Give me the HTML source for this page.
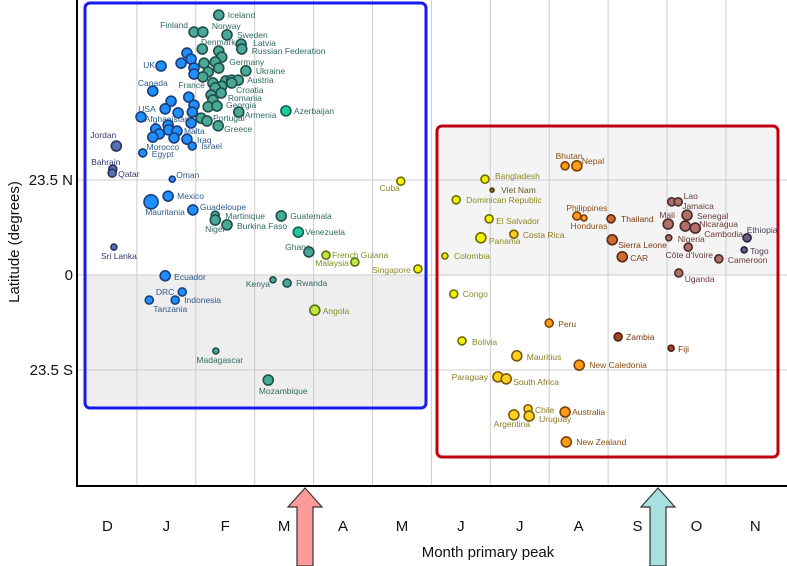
<!DOCTYPE html>
<html><head><meta charset="utf-8"><style>
html,body{margin:0;padding:0;background:#fff;}
svg{display:block;font-family:"Liberation Sans",sans-serif;}
</style></head><body>
<svg id="chart" width="787" height="566" viewBox="0 0 787 566"></svg>
<script>
const monthLabels = ["D","J","F","M","A","M","J","J","A","S","O","N"];
const latTicks = [23.5, 0, -23.5];
const latTickLabels = ["23.5 N","0","23.5 S"];
const names = ["Iceland","Finland","Norway","Sweden","Latvia","Russian Federation","Denmark","","","","","","","Germany","","UK","","","","","Ukraine","France","","","Austria","","","","Croatia","","Romania","","Georgia","Canada","","","","","","","USA","","Armenia","Azerbaijan","","Portugal","Greece","","Afghanistan","","Malta","","Morocco","","Iraq","Israel","Jordan","Egypt","Bahrain","Qatar","Oman","Mexico","Mauritania","Guadeloupe","Martinique","Niger","Burkina Faso","Guatemala","Venezuela","Ghana","French Guiana","Malaysia","Cuba","Singapore","Sri Lanka","Ecuador","DRC","Indonesia","Tanzania","Kenya","Rwanda","Angola","Madagascar","Mozambique","Bhutan","Nepal","Bangladesh","Viet Nam","Dominican Republic","El Salvador","Costa Rica","Panama","Colombia","Philippines","Honduras","Thailand","Sierra Leone","CAR","Lao","Jamaica","Mali","Senegal","Nicaragua","Cambodia","Nigeria","Côte d'Ivoire","Cameroon","Ethiopia","Togo","Uganda","Congo","Peru","Zambia","Fiji","Bolivia","Mauritius","New Caledonia","Paraguay","South Africa","Chile","Uruguay","Argentina","Australia","New Zealand"];
const months = [2.39,1.97,2.12,2.53,2.77,2.78,2.11,2.39,2.44,1.85,1.92,1.75,2.14,2.33,2.39,1.41,1.97,1.97,2.21,2.12,2.85,2.29,2.51,2.61,2.72,2.61,2.44,2.33,2.43,2.26,2.29,2.21,2.36,1.27,1.88,1.97,1.94,1.58,1.48,1.70,1.07,1.92,2.73,3.53,2.09,2.19,2.38,1.32,1.53,1.54,1.68,1.38,1.27,1.63,1.85,1.94,0.65,1.10,0.59,0.58,1.60,1.53,1.24,1.95,2.33,2.33,2.53,3.45,3.74,3.92,4.21,4.70,5.48,5.77,0.61,1.48,1.77,1.65,1.21,3.31,3.55,4.02,2.34,3.23,8.27,8.47,6.91,7.03,6.42,6.98,7.40,6.84,6.23,8.47,8.59,9.05,9.07,9.24,10.08,10.19,10.02,10.34,10.31,10.48,10.03,10.36,10.88,11.36,11.31,10.20,6.38,8.00,9.17,10.07,6.52,7.45,8.51,7.13,7.27,7.64,7.66,7.40,8.27,8.29];
const lats = [64.3,60.1,60.1,59.4,57.1,55.9,55.9,55.4,53.9,54.9,53.4,52.4,52.4,52.7,51.2,51.7,51.2,49.7,50.2,49.0,50.5,47.5,48.0,48.2,48.2,47.5,46.7,46.3,45.0,44.5,43.3,41.6,41.8,45.5,44.0,42.0,40.3,43.0,41.1,40.1,39.1,37.6,40.3,40.6,38.8,38.1,36.9,36.1,37.1,35.9,35.6,34.9,34.1,33.9,33.6,31.9,31.9,30.2,26.2,25.2,23.7,19.5,18.1,16.1,14.8,13.6,12.4,14.6,10.6,5.7,4.9,3.2,23.2,1.5,6.9,-0.2,-4.2,-6.2,-6.2,-1.2,-2.0,-8.7,-18.8,-26.0,27.0,27.0,23.7,21.0,18.6,13.9,10.1,9.2,4.7,14.6,14.1,13.9,8.7,4.5,18.1,18.1,12.6,14.8,12.1,11.6,9.2,6.9,4.0,9.2,6.2,0.5,-4.7,-11.9,-15.3,-18.1,-16.3,-20.0,-22.3,-25.2,-25.7,-33.1,-34.9,-34.6,-33.9,-41.3];
const sizes = [5,5,5,5,5,5,5,5,5,5,5,5,5,5,5,5,5,5,5,5,5,5,5,5,5,5,5,5,5,5,5,5,5,5,5,5,5,5,5,5,5,5,5,5,5,5,5,5,5,5,5,5,5,5,5,4,5,4,4,4,3,5,7,5,4,5,5,5,5,5,4,4,4,4,3,5,4,4,4,3,4,5,3,5,4,5,4,2,4,4,4,5,3,4,3,4,5,5,4,4,5,5,5,5,3,4,4,4,3,4,4,4,4,3,4,5,5,5,5,4,5,5,5,5];
const groups = [1,1,1,1,1,1,1,1,1,0,0,0,1,1,1,0,0,0,1,1,1,1,1,1,1,1,1,1,1,1,1,1,1,0,0,0,0,0,0,0,0,0,1,2,1,1,1,0,0,0,0,0,0,0,0,0,3,0,3,3,0,0,0,0,1,1,1,1,2,1,4,4,5,5,3,0,0,0,0,1,1,4,1,1,7,7,5,11,5,5,6,5,5,7,7,8,8,8,9,9,9,9,9,9,9,9,9,10,10,9,5,7,12,12,5,6,7,6,6,6,6,6,7,7];

const fills=["#1f8fff","#4aa898","#20c8a0","#5a6fb0","#c0e840","#f4f400","#ffd020","#ff9a1a","#cc6a30","#b07068","#6a5a80","#8a7a30","#a04a20"];
const strokes=["#1b3d78","#1f4f48","#106050","#2a3060","#5a7010","#6a6a00","#7a5a00","#7a4000","#5a2a10","#4a2a2a","#2a2040","#4a4010","#4a2010"];
const labelCols=["#2d5a8c","#2f6a62","#2f6a62","#333a70","#7a9020","#8a8a20","#8a7a20","#8a5010","#7a3a10","#6a3a3a","#4a3a5a","#6a5a20","#7a3a10"];
const lbl={"Iceland":[9,0,"start"],"Finland":[-6,-7,"end"],"Norway":[9,-6,"start"],"Sweden":[10,0,"start"],"Latvia":[12,-1,"start"],"Russian Federation":[10,2,"start"],"Denmark":[16,-7,"middle"],"Germany":[14,0,"start"],"UK":[-6,-1,"end"],"Ukraine":[10,0,"start"],"Austria":[9,0,"start"],"France":[-8,2,"end"],"Canada":[0,-8,"middle"],"Croatia":[15,-3,"start"],"Romania":[15,-2,"start"],"Georgia":[9,-1,"start"],"USA":[6,-8,"middle"],"Armenia":[6,3,"start"],"Azerbaijan":[8,0,"start"],"Afghanistan":[-1,-6,"middle"],"Portugal":[6,-3,"start"],"Greece":[6,3,"start"],"Malta":[7,0,"start"],"Jordan":[-13,-11,"middle"],"Iraq":[10,1,"start"],"Morocco":[10,10,"middle"],"Israel":[9,0,"start"],"Egypt":[9,1,"start"],"Bahrain":[-7,-7,"middle"],"Qatar":[6,1,"start"],"Oman":[4,-4,"start"],"Mexico":[9,0,"start"],"Mauritania":[14,10,"middle"],"Guadeloupe":[7,-3,"start"],"Martinique":[10,1,"start"],"Niger":[0,9,"middle"],"Burkina Faso":[10,1,"start"],"Guatemala":[9,0,"start"],"Venezuela":[7,0,"start"],"Ghana":[-11,-5,"middle"],"French Guiana":[6,0,"start"],"Malaysia":[-6,1,"end"],"Cuba":[-11,7,"middle"],"Singapore":[-7,1,"end"],"Sri Lanka":[5,9,"middle"],"Ecuador":[9,1,"start"],"DRC":[-8,0,"end"],"Indonesia":[9,0,"start"],"Tanzania":[21,9,"middle"],"Kenya":[-3,4,"end"],"Rwanda":[9,0,"start"],"Angola":[8,1,"start"],"Madagascar":[4,9,"middle"],"Mozambique":[15,11,"middle"],"Bhutan":[4,-10,"middle"],"Nepal":[5,-5,"start"],"Bangladesh":[10,-3,"start"],"Viet Nam":[9,0,"start"],"Dominican Republic":[10,0,"start"],"El Salvador":[7,2,"start"],"Costa Rica":[9,1,"start"],"Panama":[8,3,"start"],"Colombia":[9,0,"start"],"Philippines":[10,-8,"middle"],"Honduras":[5,8,"middle"],"Thailand":[10,0,"start"],"Sierra Leone":[6,5,"start"],"CAR":[8,1,"start"],"Lao":[19,-6,"middle"],"Jamaica":[4,4,"start"],"Mali":[-1,-9,"middle"],"Senegal":[10,1,"start"],"Nicaragua":[14,-2,"start"],"Cambodia":[9,6,"start"],"Nigeria":[9,1,"start"],"Côte d'Ivoire":[1,8,"middle"],"Cameroon":[9,1,"start"],"Ethiopia":[15,-8,"middle"],"Togo":[6,1,"start"],"Uganda":[6,6,"start"],"Congo":[9,0,"start"],"Peru":[9,1,"start"],"Zambia":[8,0,"start"],"Fiji":[7,1,"start"],"Bolivia":[10,1,"start"],"Mauritius":[10,1,"start"],"New Caledonia":[10,0,"start"],"Paraguay":[-10,0,"end"],"South Africa":[7,3,"start"],"Chile":[7,1,"start"],"Uruguay":[10,3,"start"],"Argentina":[-2,9,"middle"],"Australia":[7,0,"start"],"New Zealand":[10,0,"start"]};

const X0=78, MW=58.9, Y0=275, PX_PER_DEG=95/23.5;
function xScale(m){return X0+m*MW;}
function yScale(l){return Y0-l*PX_PER_DEG;}
const NS="http://www.w3.org/2000/svg";
const svg=document.getElementById('chart');
function mk(tag,attrs,parent){const e=document.createElementNS(NS,tag);for(const k in attrs)e.setAttribute(k,attrs[k]);(parent||svg).appendChild(e);return e;}

// box backgrounds
let e;
e=mk('rect',{x:85,y:3,width:341,height:405,rx:5,fill:'#fff'});


e=mk('rect',{x:86,y:Y0,width:339,height:132,fill:'#eeeeee'});


e=mk('rect',{x:438,y:127,width:339,height:Y0-127,fill:'#f4f4f4'});



// gridlines
for(let k=1;k<12;k++){
  e=mk('line',{x1:xScale(k),x2:xScale(k),y1:0,y2:486,stroke:'#cccccc','stroke-width':1});
  
  
}
latTicks.forEach((t,i)=>{
  e=mk('line',{x1:77,x2:787,y1:yScale(t),y2:yScale(t),stroke:'#cccccc','stroke-width':1});
  
  
  e=mk('text',{x:73,y:yScale(t)+5,'text-anchor':'end','font-size':15,fill:'#111'});
  e.textContent=latTickLabels[i];
  
  
});

// box borders
e=mk('rect',{x:85,y:3,width:341,height:405,rx:5,fill:'none',stroke:'#1a1aee','stroke-width':3});


e=mk('rect',{x:437,y:126,width:341,height:331,rx:5,fill:'none',stroke:'#c00010','stroke-width':3});



// axes
e=mk('line',{x1:77,x2:77,y1:0,y2:487,stroke:'#000','stroke-width':2});


e=mk('line',{x1:76,x2:787,y1:486,y2:486,stroke:'#000','stroke-width':2});



monthLabels.forEach((m,i)=>{
  e=mk('text',{x:xScale(i+0.5),y:531,'text-anchor':'middle','font-size':15,fill:'#111'});
  e.textContent=m;
  
  
});
e=mk('text',{x:488,y:557,'text-anchor':'middle','font-size':15,fill:'#111'});
e.textContent='Month primary peak';


e=mk('text',{x:19,y:242,'text-anchor':'middle','font-size':15,fill:'#111',transform:'rotate(-90 19 242)'});
e.textContent='Latitude (degrees)';



// arrows
function arrow(cx,fill,name){
  const p=`${cx},488 ${cx+17},507 ${cx+8},507 ${cx+8},566 ${cx-8},566 ${cx-8},507 ${cx-17},507`;
  const a=mk('polygon',{points:p,fill:fill,stroke:'#333','stroke-width':1.2});
  
  
}
arrow(305,'#ff9a9a','march-arrow');
arrow(658,'#a8e0e0','september-arrow');

// points
const gp=mk('g',{});


names.forEach((n,i)=>{
  const cx=xScale(months[i]), cy=yScale(lats[i]), g=groups[i];
  const c=mk('circle',{cx:cx,cy:cy,r:sizes[i],fill:fills[g],stroke:strokes[g],'stroke-width':1.6},gp);
  
  
});
names.forEach((n,i)=>{
  if(!n) return;
  const o=lbl[n]||[sizes[i]+4,0,'start'];
  const t=mk('text',{x:xScale(months[i])+o[0],y:yScale(lats[i])+o[1]+3,'text-anchor':o[2],'font-size':8.5,fill:labelCols[groups[i]]},gp);
  t.textContent=n;
  
  
});
</script>
</body></html>
